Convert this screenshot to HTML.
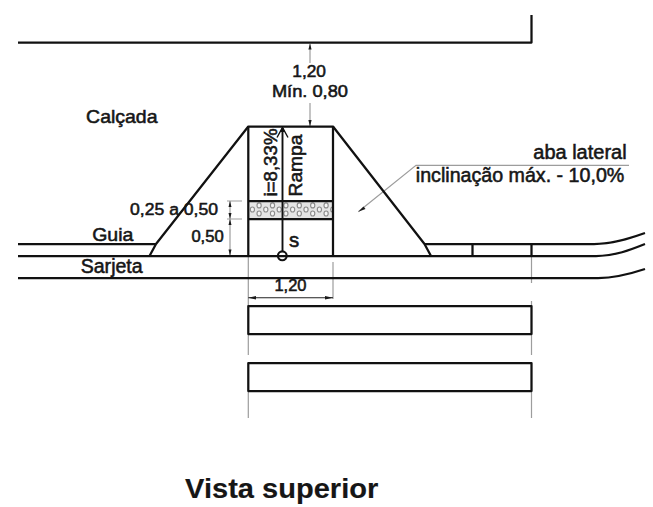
<!DOCTYPE html>
<html><head><meta charset="utf-8">
<style>
html,body{margin:0;padding:0;background:#fff;}
svg{display:block;}
text{font-family:"Liberation Sans",sans-serif;fill:#161616;}
</style></head><body>
<svg width="653" height="507" viewBox="0 0 653 507">
<defs>
<clipPath id="bandclip"><rect x="249.3" y="202" width="82.7" height="16"/></clipPath>
</defs>
<!-- grey extension lines -->
<g stroke="#9d9d9d" stroke-width="1.2" fill="none">
<path d="M310,44 V63 M310,103 V126"/>
<path d="M248.3,257 V306 M248.3,334 V355 M248.3,391 V418 M333,262 V299"/>
<path d="M531.5,257 V283 M531.5,301 V306 M531.5,334 V355 M531.5,391 V418"/>
<path d="M227,201 H242 M227,219 H242"/>
<path d="M230,201 V256"/>
<path d="M358.3,211.8 L416,165.3 H629"/>
</g>
<!-- hatch band -->
<rect x="248.3" y="201" width="84.7" height="18" fill="#e4e4e4"/>
<g clip-path="url(#bandclip)" fill="#f4f4f4" stroke="#8c8c8c" stroke-width="1.15"><ellipse cx="259.1" cy="205.4" rx="2.1" ry="2.5"/><ellipse cx="272.5" cy="205.4" rx="2.1" ry="2.5"/><ellipse cx="285.9" cy="205.4" rx="2.1" ry="2.5"/><ellipse cx="299.3" cy="205.4" rx="2.1" ry="2.5"/><ellipse cx="312.7" cy="205.4" rx="2.1" ry="2.5"/><ellipse cx="326.1" cy="205.4" rx="2.1" ry="2.5"/><ellipse cx="252.4" cy="209.5" rx="2.1" ry="2.5"/><ellipse cx="265.8" cy="209.5" rx="2.1" ry="2.5"/><ellipse cx="279.2" cy="209.5" rx="2.1" ry="2.5"/><ellipse cx="292.6" cy="209.5" rx="2.1" ry="2.5"/><ellipse cx="306" cy="209.5" rx="2.1" ry="2.5"/><ellipse cx="319.4" cy="209.5" rx="2.1" ry="2.5"/><ellipse cx="332.8" cy="209.5" rx="2.1" ry="2.5"/><ellipse cx="259.1" cy="213.5" rx="2.1" ry="2.5"/><ellipse cx="272.5" cy="213.5" rx="2.1" ry="2.5"/><ellipse cx="285.9" cy="213.5" rx="2.1" ry="2.5"/><ellipse cx="299.3" cy="213.5" rx="2.1" ry="2.5"/><ellipse cx="312.7" cy="213.5" rx="2.1" ry="2.5"/><ellipse cx="326.1" cy="213.5" rx="2.1" ry="2.5"/></g>
<g fill="none" stroke="#111" stroke-width="2.25" stroke-linejoin="round">
<!-- top line -->
<path d="M18,42.5 H531.5 V15"/>
<!-- trapezoid -->
<path d="M149.5,256 L156,244 L248.3,126.5 H333 L424.5,244 L431,256"/>
<path d="M248.3,126.5 V256 M333,126.5 V256"/>
<path d="M248.3,201 H333 M248.3,219 H333"/>
<!-- main lines -->
<path d="M18,256 H596 C615,256 630,250 645,244"/>
<path d="M18,244 H156 M424.5,244 H594 C612,244 628,239 645,233"/>
<path d="M18,278 H598 C615,278 630,274 645,269"/>
<path d="M472.5,244 V256 M531.5,244 V256"/>
<!-- rects -->
<rect x="248.3" y="306" width="283.2" height="28"/>
<rect x="248.3" y="363" width="283.2" height="28"/>
</g>
<!-- center arrow line -->
<g stroke="#111" stroke-width="1.7" fill="none">
<path d="M282.5,128 V251.5" stroke-width="1.9"/>
<circle cx="282.3" cy="255.8" r="4.4" stroke-width="2.1"/>
<path d="M277,137.5 L282.5,127.5 L288,137.5" stroke-width="1.4"/>
</g>
<path d="M282.5,126.5 L280,132 L285,132 Z" fill="#111"/>
<g stroke="#222" stroke-width="1.1" fill="none">
<path d="M248.3,297.7 H333"/>
</g>
<g fill="#1a1a1a">
<path d="M310,43.5 L308.4,49.5 H311.6 Z"/>
<path d="M310,126.5 L308.4,120 H311.6 Z"/>
<path d="M248.3,297.7 L256,296 V299.4 Z"/>
<path d="M333,297.7 L325,296 V299.4 Z"/>
<path d="M230,201 L228.5,207 H231.5 Z M230,219 L228.5,213 H231.5 Z M230,219 L228.5,225 H231.5 Z M230,256 L228.5,249.5 H231.5 Z"/>
<path d="M358.3,211.8 L363.5,206.5 L365.5,209 Z"/>
</g>
<!-- texts -->
<g stroke="#161616" stroke-width="0.55">
<text x="292.3" y="77.2" font-size="16.5" textLength="33.7" lengthAdjust="spacingAndGlyphs">1,20</text>
<text x="271.9" y="96.8" font-size="16.6" textLength="76.1" lengthAdjust="spacingAndGlyphs">Mín. 0,80</text>
<text x="86.1" y="123.2" font-size="18.4" textLength="71.4" lengthAdjust="spacingAndGlyphs">Calçada</text>
<text x="533.3" y="158.5" font-size="20" textLength="93.3" lengthAdjust="spacingAndGlyphs">aba lateral</text>
<text x="415.8" y="182" font-size="19.8" textLength="208.5" lengthAdjust="spacingAndGlyphs">inclinação máx. - 10,0%</text>
<text x="130.1" y="215.1" font-size="16.9" textLength="87.9" lengthAdjust="spacingAndGlyphs">0,25 a 0,50</text>
<text x="191.4" y="242.4" font-size="15.8" textLength="32.3" lengthAdjust="spacingAndGlyphs">0,50</text>
<text x="92.2" y="240.9" font-size="19" textLength="41.2" lengthAdjust="spacingAndGlyphs">Guia</text>
<text x="80.7" y="272.9" font-size="19.5" textLength="62" lengthAdjust="spacingAndGlyphs">Sarjeta</text>
<text x="288.9" y="247.3" font-size="20.5">s</text>
<text x="274.4" y="290.8" font-size="16.5" textLength="32.1" lengthAdjust="spacingAndGlyphs">1,20</text>
<text transform="translate(277,196.5) rotate(-90)" font-size="18" textLength="68" lengthAdjust="spacingAndGlyphs">i=8,33%</text>
<text transform="translate(302,196.5) rotate(-90)" font-size="18" textLength="62" lengthAdjust="spacingAndGlyphs">Rampa</text>
</g>
<text x="185.1" y="497.8" font-size="27.8" font-weight="bold" fill="#0a0a0a" stroke="#0a0a0a" stroke-width="0.15" textLength="193.2" lengthAdjust="spacingAndGlyphs">Vista superior</text>
</svg>
</body></html>
